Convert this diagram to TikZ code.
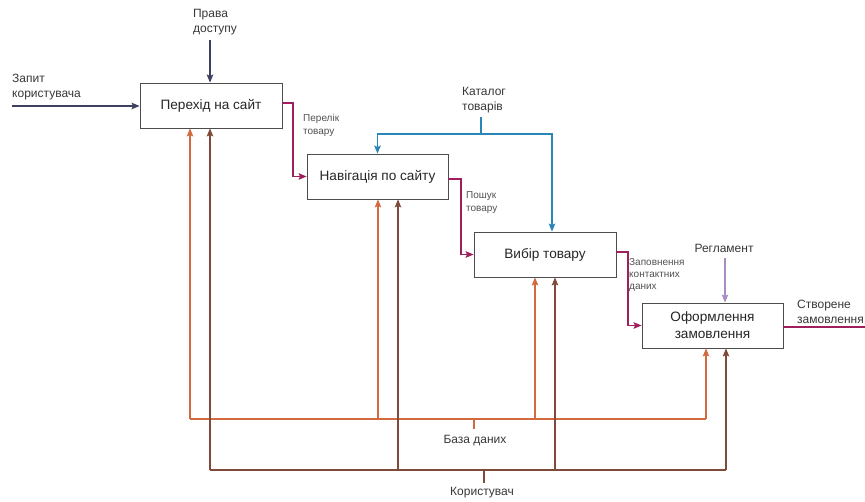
\documentclass[tikz,border=0pt]{standalone}
\usepackage{fontspec}
\setmainfont{Liberation Sans}
\usetikzlibrary{arrows.meta}
\definecolor{navy}{HTML}{3E4061}
\definecolor{mag}{HTML}{9E1F5C}
\definecolor{catblue}{HTML}{2A86B8}
\definecolor{lav}{HTML}{A88DC4}
\definecolor{dbor}{HTML}{D2693F}
\definecolor{usrbr}{HTML}{7F4A3A}
\begin{document}
\begin{tikzpicture}[x=1pt,y=-1pt,
  box/.style={draw=black!70, line width=0.8pt, minimum width=142pt, minimum height=45pt,
    inner sep=2pt, font=\fontsize{13.6}{17}\selectfont, text=black!85, align=center},
  arr/.style={-{Stealth[length=8pt,width=6.5pt,inset=1.5pt]}},
  ln/.style={line width=1.4pt},
  lbl/.style={font=\fontsize{12}{14.5}\selectfont, text=black!78, align=left, inner sep=0pt},
  sml/.style={font=\fontsize{10}{13}\selectfont, text=black!68, align=left, inner sep=0pt}
]
\useasboundingbox[fill=white] (0,0) rectangle (865,502);

% boxes
\node[box] (b1) at (211,105.5) {Перехід на сайт};
\node[box, minimum width=141pt] (b2) at (377.5,176.5) {Навігація по сайту};
\node[box] (b3) at (545,254.5) {Вибір товару};
\node[box, minimum width=141pt] (b4) at (712.5,325.5) {Оформлення\\замовлення};

% labels
\node[lbl, anchor=west] (lq) at (12,87) {Запит\\користувача};
\node[lbl] (lp) at (215,22) {Права\\доступу};
\node[sml, anchor=west] (lpt) at (303,125) {Перелік\\товару};
\node[lbl, anchor=west] (lk) at (462,100) {Каталог\\товарів};
\node[sml, anchor=west] (lpk) at (466,203) {Пошук\\товару};
\node[sml, anchor=west, font=\fontsize{10}{12}\selectfont] (lz) at (629,275) {Заповнення\\контактних\\даних};
\node[lbl] (lr) at (724,248) {Регламент};
\node[lbl, anchor=west] (ls) at (797,312) {Створене\\замовлення};
\node[lbl] (ldb) at (475,441) {База даних};
\node[lbl] (lu) at (482,493) {Користувач};

% coordinates
\coordinate (q) at (12,106);
\coordinate (p) at (210,40);
\coordinate (o1) at (293,103);
\coordinate (o2) at (461,179);
\coordinate (o3) at (628,252);
\coordinate (o4) at (865,327);
\coordinate (k) at (481,117);
\coordinate (kj) at (481,134);
\coordinate (r) at (725,258);

% inputs / controls
\draw[ln, navy, arr] (q) -- (q -| b1.west);
\draw[ln, navy, arr] (p) -- (p |- b1.north);
\draw[ln, mag, arr] (o1 -| b1.east) -- (o1) |- (b2.west);
\draw[ln, mag, arr] (o2 -| b2.east) -- (o2) |- (b3.west);
\draw[ln, mag, arr] (o3 -| b3.east) -- (o3) |- (b4.west);
\draw[ln, mag] (o4 -| b4.east) -- (o4);
\draw[ln, catblue] (k) -- (kj);
\draw[ln, catblue, arr] (kj) -| (b2.north);
\draw[ln, catblue, arr] (kj) -| ([xshift=7pt]b3.north);
\draw[ln, lav, arr] (r) -- (r |- b4.north);

% mechanisms: database
\coordinate (d1) at (190,419);
\coordinate (d2) at (378,419);
\coordinate (d3) at (535,419);
\coordinate (d4) at (706,419);
\coordinate (dt) at (474,419);
\coordinate (dte) at (474,429);
% mechanisms: user
\coordinate (u1) at (210,470);
\coordinate (u2) at (398,470);
\coordinate (u3) at (555,470);
\coordinate (u4) at (726,470);
\coordinate (ut) at (484,470);
\coordinate (ute) at (484,483);

\draw[ln, dbor] (d1) -- (d4);
\draw[ln, dbor] (dt) -- (dte);
\foreach \c/\b in {d1/b1, d2/b2, d3/b3, d4/b4}
  \draw[ln, dbor, arr] (\c) -- (\c |- \b.south);
\draw[ln, usrbr] (u1) -- (u4);
\draw[ln, usrbr] (ut) -- (ute);
\foreach \c/\b in {u1/b1, u2/b2, u3/b3, u4/b4}
  \draw[ln, usrbr, arr] (\c) -- (\c |- \b.south);
\end{tikzpicture}
\end{document}
